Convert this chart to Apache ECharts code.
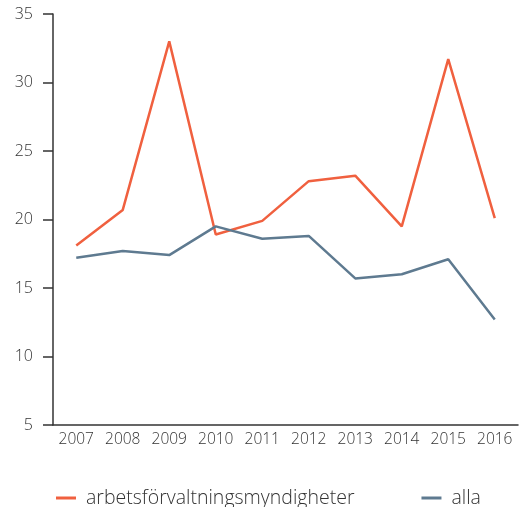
<!DOCTYPE html>
<html>
<head>
<meta charset="utf-8">
<script src="https://cdn.jsdelivr.net/npm/echarts@6/dist/echarts.min.js"></script>
<style>
  html, body { margin: 0; padding: 0; background: #fff; }
  #chart { width: 520px; height: 507px; }
</style>
</head>
<body>
<div id="chart"></div>
<script>
// årtal och värden
const years = ['2007', '2008', '2009', '2010', '2011', '2012', '2013', '2014', '2015', '2016']
const arbetsforvaltning = [18.1, 20.7, 33.0, 18.9, 19.9, 22.8, 23.2, 19.5, 31.7, 20.1]
const alla = [17.2, 17.7, 17.4, 19.5, 18.6, 18.8, 15.7, 16.0, 17.1, 12.7]

const chart = echarts.init(document.getElementById('chart'))
chart.setOption({
  animation: false,
  textStyle: { fontFamily: 'Open Sans' },
  grid: { left: 53, right: 2, top: 14, bottom: 82, containLabel: false },
  legend: {
    top: 483,
    left: 51,
    itemGap: 67,
    itemWidth: 20,
    itemHeight: 3,
    icon: 'rect',
    textStyle: { fontSize: 19.5, color: '#333', fontFamily: 'Open Sans', fontWeight: 300, padding: [0, 0, 0, 5] },
    data: ['arbetsförvaltningsmyndigheter', 'alla']
  },
  xAxis: {
    type: 'category',
    data: years,
    boundaryGap: true,
    axisLine: { lineStyle: { color: '#333', width: 1.5 } },
    axisTick: { inside: true, length: 10, lineStyle: { color: '#333', width: 1.5 } },
    axisLabel: { color: '#333', fontSize: 15.5, fontWeight: 300, margin: 7 }
  },
  yAxis: {
    type: 'value',
    min: 5,
    max: 35,
    interval: 5,
    splitLine: { show: false },
    axisLine: { show: true, lineStyle: { color: '#333', width: 1.5 } },
    axisTick: { show: true, length: 10, lineStyle: { color: '#333', width: 1.5 } },
    axisLabel: { color: '#333', fontSize: 16, fontWeight: 300, margin: 20 }
  },
  series: [
    {
      name: 'arbetsförvaltningsmyndigheter',
      type: 'line',
      data: arbetsforvaltning,
      symbol: 'none',
      color: '#F0603F',
      lineStyle: { width: 2.5 }
    },
    {
      name: 'alla',
      type: 'line',
      data: alla,
      symbol: 'none',
      color: '#5E7A90',
      lineStyle: { width: 2.5 }
    }
  ]
})
</script>
</body>
</html>
